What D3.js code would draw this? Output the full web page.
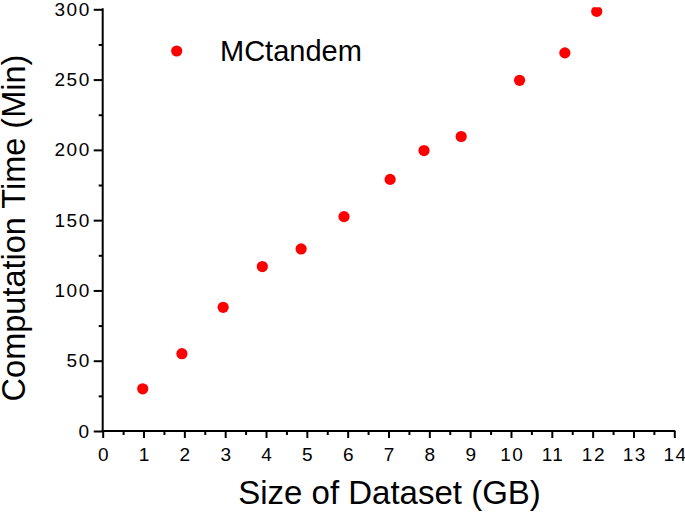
<!DOCTYPE html>
<html>
<head>
<meta charset="utf-8">
<script src="https://cdn.jsdelivr.net/npm/d3@7"></script>
<style>
  html, body { margin: 0; padding: 0; background: #fff; }
  svg { display: block; font-family: "Liberation Sans", Arial, Helvetica, sans-serif; }
</style>
</head>
<body>
<svg id="chart" width="685" height="515"></svg>
<script>
// Data
const datasetSizeGB = [0.98, 1.94, 2.95, 3.91, 4.86, 5.91, 7.04, 7.87, 8.78, 10.21, 11.32, 12.1];
const computationMin = [30, 55, 88, 117, 129.5, 152.5, 179, 199.5, 209.5, 249.5, 269, 298.5];
const seriesName = "MCtandem";
const xTickValues = d3.range(0, 15, 1);
const yTickValues = [0, 50, 100, 150, 200, 250, 300];
const xTitle = "Size of Dataset (GB)";
const yTitle = "Computation Time (Min)";

(function () {
const svg = d3.select("#chart");
const pLeft = 102.7, pRight = 674.3, pTop = 9.3, pBottom = 431;

const x = d3.scaleLinear().domain([0, 14]).range([pLeft, pRight]);
const y = d3.scaleLinear().domain([0, 300]).range([pBottom, pTop]);

const xMinor = d3.range(0.5, 14, 1);
const yMinor = d3.range(25, 300, 50);

const gx = svg.append("g").attr("transform", `translate(0,${pBottom})`);
gx.call(d3.axisBottom(x).tickValues(xTickValues).tickSize(7).tickPadding(10).tickFormat(d3.format("d")));
gx.append("g").call(d3.axisBottom(x).tickValues(xMinor).tickSize(4).tickFormat(""))
  .select(".domain").remove();

const gy = svg.append("g").attr("transform", `translate(${pLeft},0)`);
gy.call(d3.axisLeft(y).tickValues(yTickValues).tickSize(9).tickPadding(3).tickFormat(d3.format("d")));
gy.append("g").call(d3.axisLeft(y).tickValues(yMinor).tickSize(4).tickFormat(""))
  .select(".domain").remove();

svg.selectAll(".domain").attr("stroke", "#000").attr("stroke-width", 2);
gx.select(".domain").attr("d", `M${pLeft - 1},0H${pRight + 1}`);
gy.select(".domain").attr("d", `M0,${pBottom + 1}V${pTop - 1}`);
svg.selectAll(".tick line").attr("stroke", "#000").attr("stroke-width", 2);
svg.selectAll(".tick text").attr("font-size", 19).attr("fill", "#000")
  .attr("letter-spacing", "1.5px")
  .attr("font-family", "'Liberation Sans', Arial, Helvetica, sans-serif");
// compensate trailing letter-spacing on centered x labels
gx.selectAll(".tick text").attr("dx", "0.75px");

svg.append("clipPath").attr("id", "plotclip").append("rect")
  .attr("x", pLeft - 20).attr("y", pTop - 2).attr("width", pRight - pLeft + 40).attr("height", pBottom - pTop + 20);

svg.append("g").attr("clip-path", "url(#plotclip)")
  .selectAll("circle").data(datasetSizeGB).join("circle")
  .attr("cx", d => x(d))
  .attr("cy", (d, i) => y(computationMin[i]))
  .attr("r", 5.6)
  .attr("fill", "#ff0000");

// legend
svg.append("circle").attr("cx", 176.7).attr("cy", 51).attr("r", 5.6).attr("fill", "#ff0000");
svg.append("text").attr("x", 220).attr("y", 61).attr("font-size", 29).attr("fill", "#000").text(seriesName);

// titles
svg.append("text").attr("x", 389.5).attr("y", 504).attr("text-anchor", "middle")
  .attr("font-size", 33).attr("fill", "#000").text(xTitle);
svg.append("text").attr("transform", `translate(25,228) rotate(-90)`).attr("text-anchor", "middle")
  .attr("font-size", 32.5).attr("fill", "#000").text(yTitle);
})();
</script>
</body>
</html>
